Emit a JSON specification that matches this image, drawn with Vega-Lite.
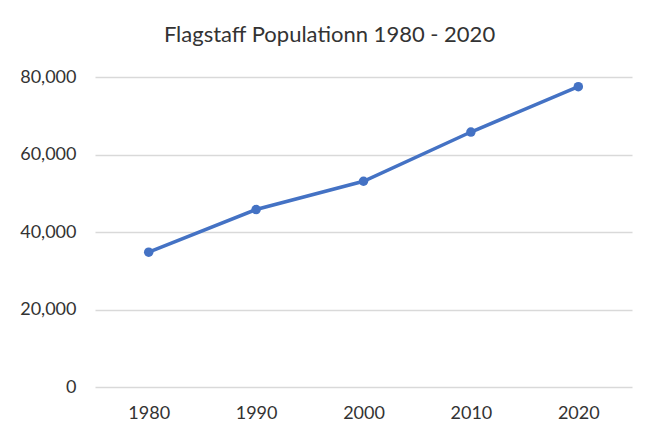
{
  "$schema": "https://vega.github.io/schema/vega-lite/v6.json",
  "autosize": {"type": "none"},
  "padding": {"left": 95, "top": 77, "right": 22, "bottom": 51},
  "width": 537,
  "height": 310,
  "background": "white",
  "title": {
    "text": "Flagstaff Populationn 1980 - 2020",
    "font": "Lato",
    "fontSize": 22,
    "fontWeight": "normal",
    "color": "#333333",
    "anchor": "middle",
    "frame": "group",
    "dx": -34,
    "offset": 21
  },
  "data": {
    "values": [
      {"year": "1980", "population": 34800},
      {"year": "1990", "population": 45800},
      {"year": "2000", "population": 53100},
      {"year": "2010", "population": 65800},
      {"year": "2020", "population": 77500}
    ]
  },
  "config": {
    "view": {"stroke": null},
    "axis": {
      "labelFont": "Lato",
      "labelFontSize": 18,
      "labelColor": "#333333",
      "domain": false,
      "ticks": false,
      "title": null,
      "gridColor": "#D9D9D9",
      "gridWidth": 1.3
    }
  },
  "mark": {"type": "line", "color": "#4472C4", "strokeWidth": 3.5, "point": {"filled": true, "size": 90, "color": "#4472C4", "opacity": 1}},
  "encoding": {
    "x": {
      "field": "year",
      "type": "ordinal",
      "scale": {"type": "point", "padding": 0.5},
      "axis": {"labelAngle": 0, "labelPadding": 17, "grid": false}
    },
    "y": {
      "field": "population",
      "type": "quantitative",
      "scale": {"domain": [0, 80000], "nice": false},
      "axis": {"values": [0, 20000, 40000, 60000, 80000], "format": ",.0f", "labelPadding": 19, "grid": true}
    }
  }
}
